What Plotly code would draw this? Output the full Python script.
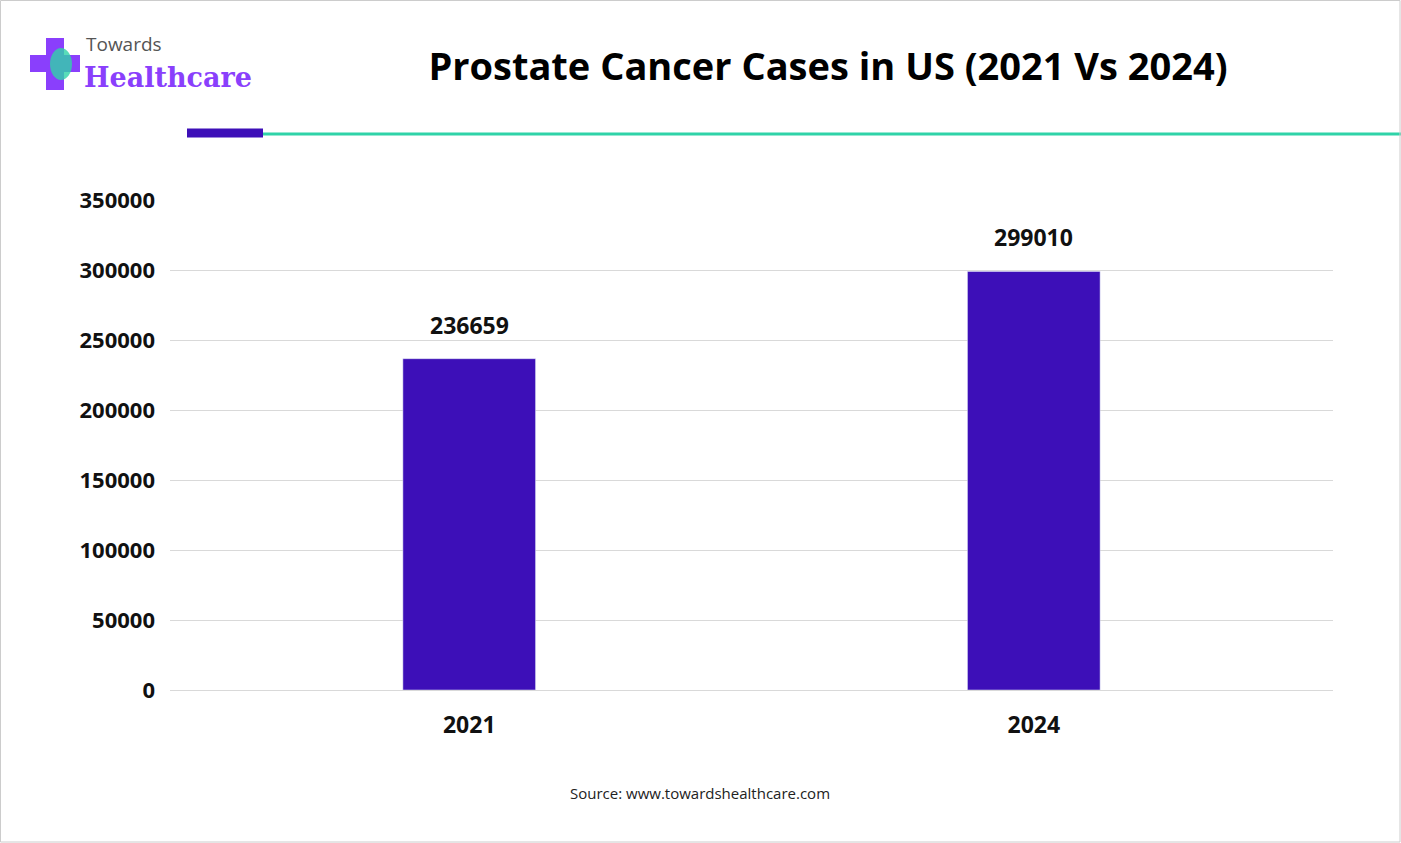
import plotly.graph_objects as go

years = ["2021", "2024"]
cases = [236659, 299010]
y_ticks = [0, 50000, 100000, 150000, 200000, 250000, 300000, 350000]

W, H = 1401, 843
font = "Open Sans"

fig = go.Figure(go.Bar(x=years, y=cases, marker_color="#3d0fb8"))

# value labels above the bars
for i, v in enumerate(cases):
    fig.add_annotation(x=i, y=v, xref="x", yref="y", text="<b>%d</b>" % v,
                       showarrow=False, yshift=34,
                       font=dict(family=font, size=23, color="#111"))

fig.update_layout(
    width=W, height=H, plot_bgcolor="white", paper_bgcolor="white",
    margin=dict(l=170, r=68, t=200, b=153),
    bargap=0.765, showlegend=False,
    font=dict(family=font),
    title=dict(text="<b>Prostate Cancer Cases in US (2021 Vs 2024)</b>",
               x=0.591, xanchor="center", y=0.921, yanchor="middle",
               font=dict(family=font, size=38, color="black")),
)
fig.update_yaxes(range=[0, 350000], tickvals=y_ticks, showgrid=True,
                 gridcolor="#d9d9d9", zeroline=False, showline=False,
                 tickfont=dict(family=font, size=22, color="#111", weight="bold"),
                 ticklabelstandoff=14, tickformat="d")
fig.update_xaxes(type="category", showline=True, linecolor="#d9d9d9", range=[-0.53, 1.53],
                 tickfont=dict(family=font, size=23, color="#111", weight="bold"),
                 ticklabelstandoff=14)

# header rules
fig.add_shape(type="line", xref="paper", yref="paper", x0=(263-170)/1163, x1=(1401-170)/1163,
              y0=(690-134)/490, y1=(690-134)/490,
              line=dict(color="#2fd3a8", width=3))
fig.add_shape(type="line", xref="paper", yref="paper", x0=(187-170)/1163, x1=(263-170)/1163,
              y0=(690-133)/490, y1=(690-133)/490,
              line=dict(color="#3d0fb8", width=9))
# border
fig.add_shape(type="rect", xref="paper", yref="paper",
              x0=-169.5/1163, x1=(1400-170)/1163, y0=-152/490, y1=(690-0.5)/490,
              line=dict(color="#cccccc", width=1))

# logo
fig.add_shape(type="rect", xref="paper", yref="paper",
              x0=(30-170)/1163, x1=(80-170)/1163, y0=(690-72)/490, y1=(690-55)/490,
              fillcolor="#8a3ffc", line_width=0)
fig.add_shape(type="rect", xref="paper", yref="paper",
              x0=(46-170)/1163, x1=(64-170)/1163, y0=(690-90)/490, y1=(690-38)/490,
              fillcolor="#8a3ffc", line_width=0)
fig.add_shape(type="circle", xref="paper", yref="paper",
              x0=(50-170)/1163, x1=(72-170)/1163, y0=(690-80)/490, y1=(690-48)/490,
              fillcolor="#2fd3a8", line_width=0, opacity=0.8)
fig.add_annotation(text="Towards", xref="paper", yref="paper",
                   x=(84-170)/1163, y=(690-44)/490, xanchor="left", yanchor="middle",
                   showarrow=False, font=dict(family=font, size=19, color="#555"))
fig.add_annotation(text="<b>Healthcare</b>", xref="paper", yref="paper",
                   x=(82-170)/1163, y=(690-78)/490, xanchor="left", yanchor="middle",
                   showarrow=False, font=dict(family="DejaVu Serif", size=27, color="#8a3ffc"))

fig.add_annotation(text="Source: www.towardshealthcare.com", xref="paper", yref="paper",
                   x=(700-170)/1163, y=-(793-690)/490, xanchor="center", yanchor="middle",
                   showarrow=False, font=dict(family=font, size=15, color="#222"))

fig.write_html("out.html", config={"displayModeBar": False},
               post_script="document.body.style.margin='0';")
